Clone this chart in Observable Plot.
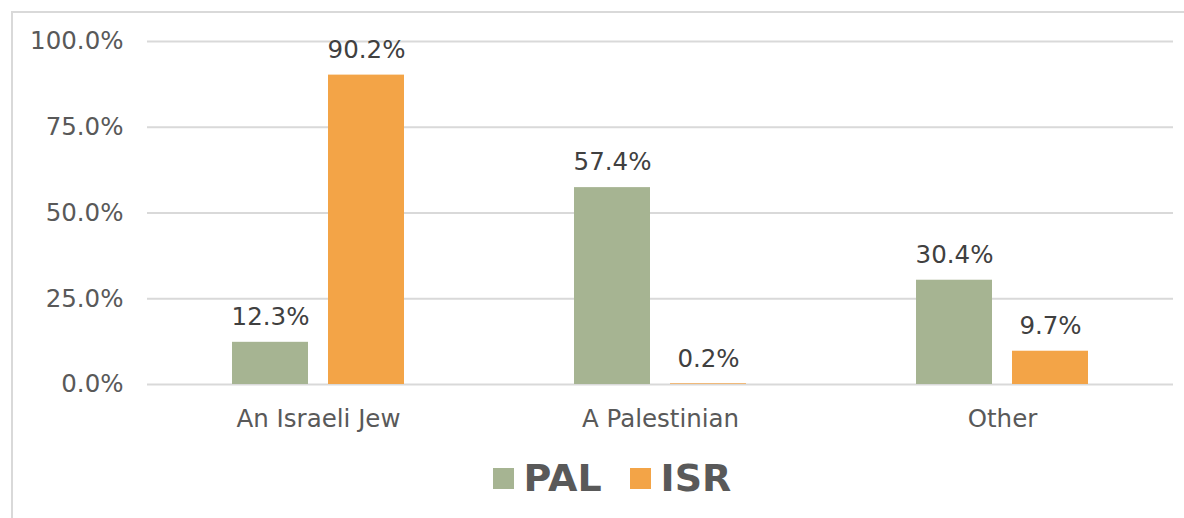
<!DOCTYPE html>
<html>
<head>
<meta charset="utf-8">
<script src="https://cdn.jsdelivr.net/npm/d3@7"></script>
<script src="https://cdn.jsdelivr.net/npm/@observablehq/plot@0.6"></script>
<style>
  html, body { margin: 0; padding: 0; background: #fff; }
  body { width: 1184px; height: 518px; overflow: hidden; position: relative; font-family: "DejaVu Sans", Verdana, sans-serif; }
  #frame { position: absolute; left: 11px; top: 11px; width: 1300px; height: 600px; border-left: 2px solid #d9d9d9; border-top: 2px solid #d9d9d9; box-sizing: border-box; }
  #chart { position: absolute; left: 0; top: 0; }
  #legend { position: absolute; left: 0; top: 440px; width: 1184px; padding-left: 40px; box-sizing: border-box; display: flex; justify-content: center; align-items: center; gap: 28px; height: 78px; padding-bottom: 2px; }
  .item { display: flex; align-items: center; gap: 10px; font-weight: bold; font-size: 38px; color: #595959; line-height: 38px; }
  .sw { width: 21px; height: 21px; display: inline-block; }
</style>
</head>
<body>
<div id="frame"></div>
<div id="chart"></div>
<div id="legend"></div>
<script>
const categories = ["An Israeli Jew", "A Palestinian", "Other"];
const series = ["PAL", "ISR"];
const palValues = [12.3, 57.4, 30.4];
const isrValues = [90.2, 0.2, 9.7];
const yTicks = [0, 25, 50, 75, 100];
const colors = ["#a6b492", "#f3a447"];

const data = [];
categories.forEach((c, i) => {
  data.push({category: c, series: "PAL", value: palValues[i]});
  data.push({category: c, series: "ISR", value: isrValues[i]});
});

const chart = Plot.plot({
  width: 1184,
  height: 440,
  marginLeft: 147,
  marginRight: 11,
  marginTop: 41,
  marginBottom: 56,
  style: {fontFamily: "DejaVu Sans, Verdana, sans-serif", fontSize: "24px", color: "#595959", background: "transparent"},
  fx: {domain: categories, padding: 0, label: null, axis: null},
  x: {domain: series, axis: null, paddingInner: 0.206, paddingOuter: 0.866},
  y: {domain: [0, 100], label: null},
  color: {domain: series, range: colors},
  marks: [
    Plot.ruleY(yTicks, {stroke: "#d9d9d9", strokeWidth: 2}),
    Plot.axisY({ticks: yTicks, tickSize: 0, tickPadding: 24, label: null, tickFormat: d => d.toFixed(1) + "%", fontSize: 24.5}),
    Plot.axisFx({anchor: "bottom", tickSize: 0, tickPadding: 25, label: null, fontSize: 24.5}),
    Plot.barY(data, {fx: "category", x: "series", y: "value", fill: "series"}),
    Plot.text(data, {fx: "category", x: "series", y: "value", text: d => d.value.toFixed(1) + "%", dy: -25, fill: "#404040", fontSize: 24.5})
  ]
});
document.getElementById("chart").appendChild(chart);

const legend = document.getElementById("legend");
series.forEach((s, i) => {
  const item = document.createElement("div");
  item.className = "item";
  const sw = document.createElement("span");
  sw.className = "sw";
  sw.style.background = colors[i];
  const t = document.createElement("span");
  t.textContent = s;
  item.appendChild(sw);
  item.appendChild(t);
  legend.appendChild(item);
});
</script>
</body>
</html>
